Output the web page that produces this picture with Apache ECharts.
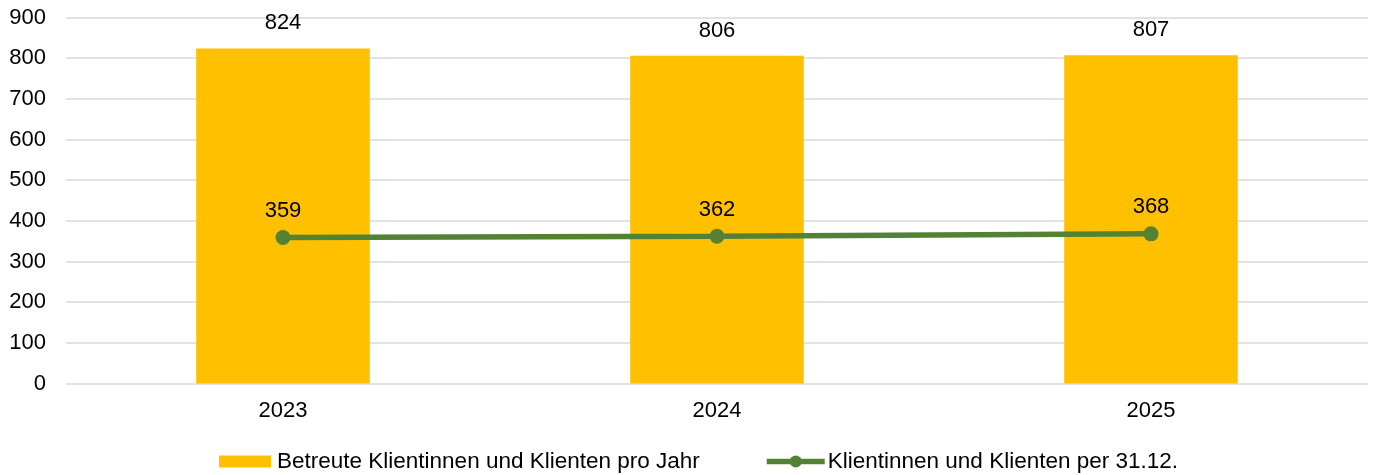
<!DOCTYPE html>
<html>
<head>
<meta charset="utf-8">
<script src="https://cdn.jsdelivr.net/npm/echarts@6/dist/echarts.min.js"></script>
<style>
  html, body { margin: 0; padding: 0; background: #ffffff; }
  #chart { width: 1378px; height: 475px; }
</style>
</head>
<body>
<div id="chart"></div>
<script>
// Klientenzahlen je Jahr
const years = ['2023', '2024', '2025'];
const betreuteProJahr = [824, 806, 807];
const stichtag3112 = [359, 362, 368];
const seriesNames = ['Betreute Klientinnen und Klienten pro Jahr', 'Klientinnen und Klienten per 31.12.'];

const FONT = 'Liberation Sans, Arial, sans-serif';
const chart = echarts.init(document.getElementById('chart'), null, { renderer: 'canvas' });

chart.setOption({
  animation: false,
  backgroundColor: '#ffffff',
  textStyle: { fontFamily: FONT, color: '#000000' },
  grid: { left: 66, right: 10, top: 17.5, bottom: 91.5, containLabel: false },
  legend: [
    {
      data: [seriesNames[0]],
      left: 214,
      top: 445,
      itemWidth: 52,
      itemHeight: 12,
      icon: 'rect',
      textStyle: { fontSize: 22.5, fontFamily: FONT, color: '#000000', padding: [0, 0, 0, 1] }
    },
    {
      data: [seriesNames[1]],
      left: 759,
      top: 445,
      itemWidth: 58,
      itemHeight: 15,
      lineStyle: { width: 5.5 },
      textStyle: { fontSize: 22.5, fontFamily: FONT, color: '#000000', padding: [0, 0, 0, -2] }
    }
  ],
  xAxis: {
    type: 'category',
    data: years,
    axisLine: { show: false },
    axisTick: { show: false },
    axisLabel: { fontSize: 22, fontFamily: FONT, color: '#000000', margin: 16 }
  },
  yAxis: {
    type: 'value',
    min: 0,
    max: 900,
    interval: 100,
    axisLine: { show: false },
    axisTick: { show: false },
    axisLabel: { fontSize: 22, fontFamily: FONT, color: '#000000', margin: 20 },
    splitLine: { lineStyle: { color: '#d9d9d9', width: 1.5 } }
  },
  series: [
    {
      name: seriesNames[0],
      type: 'bar',
      data: betreuteProJahr,
      barWidth: '40%',
      itemStyle: { color: '#FFC000' },
      label: {
        show: true,
        position: 'top',
        distance: 14,
        fontSize: 22,
        fontFamily: FONT,
        color: '#000000'
      }
    },
    {
      name: seriesNames[1],
      type: 'line',
      data: stichtag3112,
      symbol: 'circle',
      symbolSize: 15,
      lineStyle: { color: '#548235', width: 5.5 },
      itemStyle: { color: '#548235' },
      label: {
        show: true,
        position: 'top',
        distance: 8,
        fontSize: 22,
        fontFamily: FONT,
        color: '#000000'
      }
    }
  ]
});
</script>
</body>
</html>
